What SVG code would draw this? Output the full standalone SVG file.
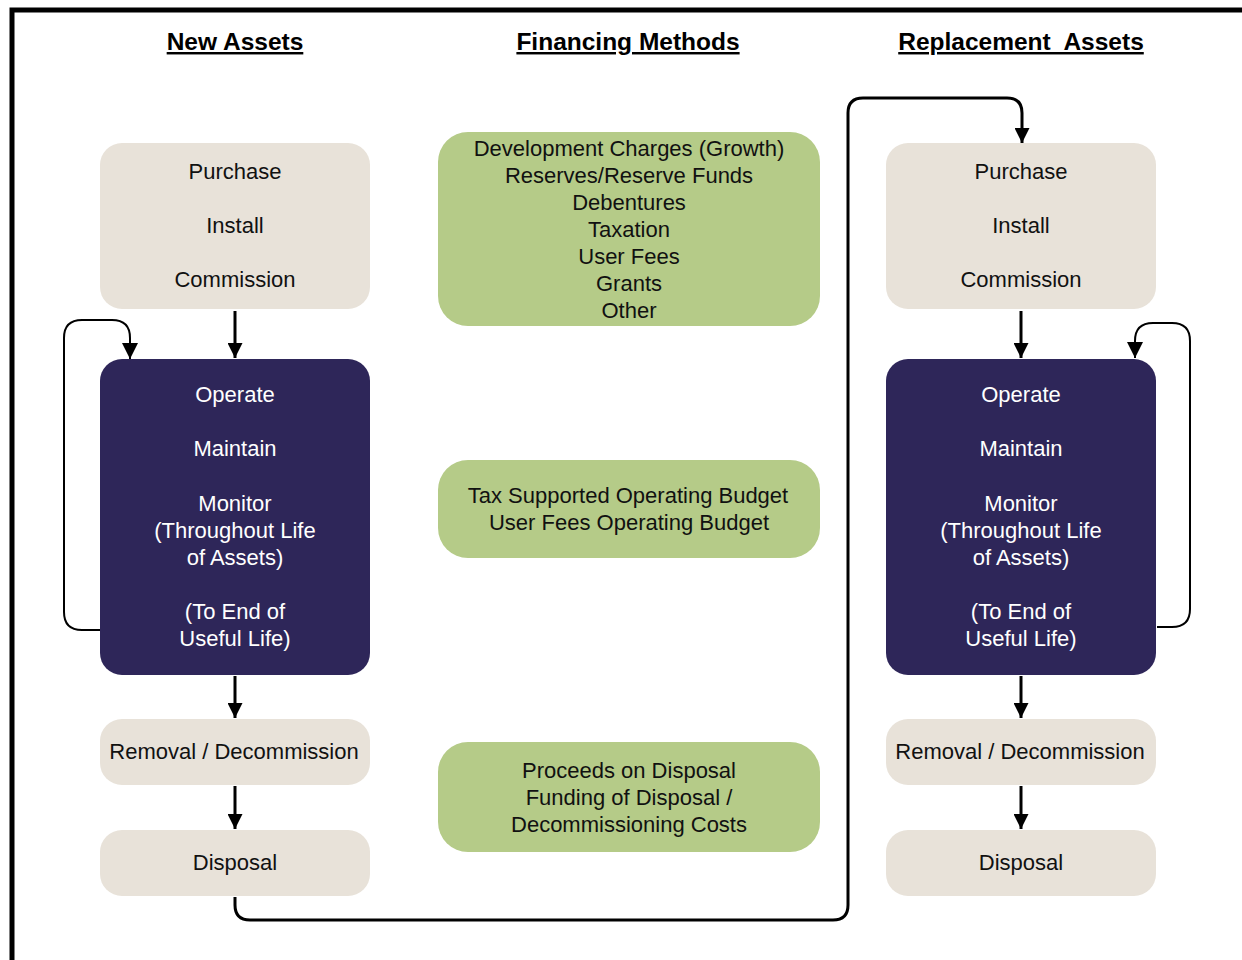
<svg xmlns="http://www.w3.org/2000/svg" width="1242" height="960" viewBox="0 0 1242 960">
<defs>
<style>
.t{font-family:"Liberation Sans",Arial,sans-serif;font-size:22px;fill:#111;text-anchor:middle}
.w{fill:#fff}
.h{font-family:"Liberation Sans",Arial,sans-serif;font-size:24.5px;font-weight:bold;fill:#000;text-anchor:middle;text-decoration:underline}
.beige{fill:#E8E2D9}
.navy{fill:#2E2659}
.green{fill:#B5CB88}
.c{fill:none;stroke:#000;stroke-width:3}
.c2{fill:none;stroke:#000;stroke-width:2}
</style>
<marker id="ah" viewBox="0 0 10 10" refX="10" refY="5" markerWidth="5" markerHeight="5" markerUnits="strokeWidth" orient="auto">
<path d="M0,0 L10,5 L0,10 z" fill="#000"/>
</marker>
<marker id="ah2" viewBox="0 0 10 10" refX="10" refY="5" markerWidth="8" markerHeight="8" markerUnits="strokeWidth" orient="auto">
<path d="M0,0 L10,5 L0,10 z" fill="#000"/>
</marker>
</defs>
<rect width="1242" height="960" fill="#fff"/>
<path d="M12,960 V10 H1242" fill="none" stroke="#000" stroke-width="5"/>
<g id="headings">
<text class="h" x="235" y="50">New Assets</text>
<text class="h" x="628" y="50">Financing Methods</text>
<text class="h" x="1021" y="50" xml:space="preserve">Replacement  Assets</text>
</g>
<g id="connectors">
<path class="c" d="M235,311 V358" marker-end="url(#ah)"/>
<path class="c" d="M235,676 V718" marker-end="url(#ah)"/>
<path class="c" d="M235,786 V829" marker-end="url(#ah)"/>
<path class="c" d="M1021,311 V358" marker-end="url(#ah)"/>
<path class="c" d="M1021,676 V718" marker-end="url(#ah)"/>
<path class="c" d="M1021,786 V829" marker-end="url(#ah)"/>
<path class="c2" d="M100,630 H82 Q64,630 64,612 V338 Q64,320 82,320 H112 Q130,320 130,338 V359" marker-end="url(#ah2)"/>
<path class="c2" d="M1157,627 H1172 Q1190,627 1190,609 V341 Q1190,323 1172,323 H1153 Q1135,323 1135,341 V358" marker-end="url(#ah2)"/>
<path class="c" d="M235,897 V905 Q235,920 250,920 H833 Q848,920 848,905 V113 Q848,98 863,98 H1007 Q1022,98 1022,113 V143" marker-end="url(#ah)"/>
</g>
<g id="new-purchase">
<rect class="beige" x="100" y="143" width="270" height="166" rx="22"/>
<text class="t" x="235" y="179">Purchase</text>
<text class="t" x="235" y="233">Install</text>
<text class="t" x="235" y="287">Commission</text>
</g>
<g id="new-operate">
<rect class="navy" x="100" y="359" width="270" height="316" rx="22"/>
<text class="t w" x="235" y="402">Operate</text>
<text class="t w" x="235" y="456">Maintain</text>
<text class="t w" x="235" y="511">Monitor</text>
<text class="t w" x="235" y="538">(Throughout Life</text>
<text class="t w" x="235" y="565">of Assets)</text>
<text class="t w" x="235" y="619">(To End of</text>
<text class="t w" x="235" y="646">Useful Life)</text>
</g>
<g id="new-removal">
<rect class="beige" x="100" y="719" width="270" height="66" rx="22"/>
<text class="t" x="234" y="759">Removal / Decommission</text>
</g>
<g id="new-disposal">
<rect class="beige" x="100" y="830" width="270" height="66" rx="22"/>
<text class="t" x="235" y="870">Disposal</text>
</g>
<g id="fin-capital">
<rect class="green" x="438" y="132" width="382" height="194" rx="30"/>
<text class="t" x="629" y="156">Development Charges (Growth)</text>
<text class="t" x="629" y="183">Reserves/Reserve Funds</text>
<text class="t" x="629" y="210">Debentures</text>
<text class="t" x="629" y="237">Taxation</text>
<text class="t" x="629" y="264">User Fees</text>
<text class="t" x="629" y="291">Grants</text>
<text class="t" x="629" y="318">Other</text>
</g>
<g id="fin-operating">
<rect class="green" x="438" y="460" width="382" height="98" rx="30"/>
<text class="t" x="628" y="503">Tax Supported Operating Budget</text>
<text class="t" x="629" y="530">User Fees Operating Budget</text>
</g>
<g id="fin-disposal">
<rect class="green" x="438" y="742" width="382" height="110" rx="30"/>
<text class="t" x="629" y="778">Proceeds on Disposal</text>
<text class="t" x="629" y="805">Funding of Disposal /</text>
<text class="t" x="629" y="832">Decommissioning Costs</text>
</g>
<g id="rep-purchase">
<rect class="beige" x="886" y="143" width="270" height="166" rx="22"/>
<text class="t" x="1021" y="179">Purchase</text>
<text class="t" x="1021" y="233">Install</text>
<text class="t" x="1021" y="287">Commission</text>
</g>
<g id="rep-operate">
<rect class="navy" x="886" y="359" width="270" height="316" rx="22"/>
<text class="t w" x="1021" y="402">Operate</text>
<text class="t w" x="1021" y="456">Maintain</text>
<text class="t w" x="1021" y="511">Monitor</text>
<text class="t w" x="1021" y="538">(Throughout Life</text>
<text class="t w" x="1021" y="565">of Assets)</text>
<text class="t w" x="1021" y="619">(To End of</text>
<text class="t w" x="1021" y="646">Useful Life)</text>
</g>
<g id="rep-removal">
<rect class="beige" x="886" y="719" width="270" height="66" rx="22"/>
<text class="t" x="1020" y="759">Removal / Decommission</text>
</g>
<g id="rep-disposal">
<rect class="beige" x="886" y="830" width="270" height="66" rx="22"/>
<text class="t" x="1021" y="870">Disposal</text>
</g>
</svg>
